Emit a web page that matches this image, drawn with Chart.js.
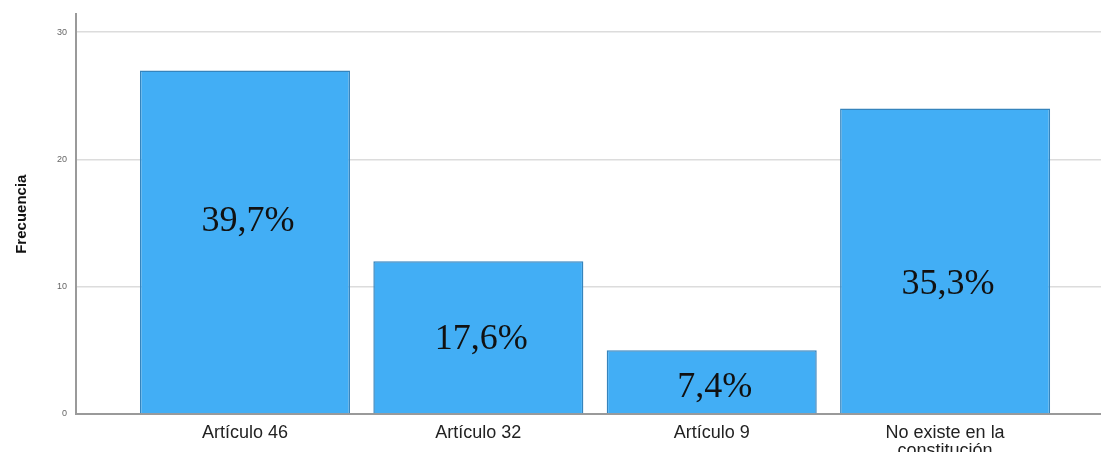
<!DOCTYPE html>
<html>
<head>
<meta charset="utf-8">
<script src="https://cdn.jsdelivr.net/npm/chart.js@4/dist/chart.umd.min.js"></script>
<style>
html,body{margin:0;padding:0;background:#fff;}
#wrap{width:1101px;height:452px;}
</style>
</head>
<body>
<div id="wrap"><canvas id="c" width="1101" height="452"></canvas></div>
<script>
const categories = ["Artículo 46", "Artículo 32", "Artículo 9", ["No existe en la", "constitución"]];
const frequencies = [27, 12, 5, 24];
const percentLabels = ["39,7%", "17,6%", "7,4%", "35,3%"];
const yTicks = [0, 10, 20, 30];

const points = frequencies.map((v, i) => ({x: i, y: v}));

// label anchors in data units (vertical centre of each percent label)
const labelAnchors = [15.3, 6.0, 2.25, 10.3];

const percentPlugin = {
  id: 'percentPlugin',
  afterDatasetsDraw(chart) {
    const ctx = chart.ctx;
    const xs = chart.scales.x, ys = chart.scales.y;
    ctx.save();
    ctx.font = '36px "Liberation Serif", "Times New Roman", serif';
    ctx.fillStyle = '#111';
    ctx.textAlign = 'center';
    ctx.textBaseline = 'middle';
    percentLabels.forEach((t, i) => {
      const x = xs.getPixelForValue(i);
      const y = ys.getPixelForValue(labelAnchors[i]);
      ctx.fillText(t, x + 3, y + 2);
    });
    ctx.restore();
  }
};

new Chart(document.getElementById('c'), {
  type: 'bar',
  data: {
    datasets: [{
      data: points,
      backgroundColor: '#42aef5',
      borderColor: '#3584bd',
      borderWidth: 1.5,
      barPercentage: 0.9,
      categoryPercentage: 1.0
    }]
  },
  options: {
    responsive: false,
    animation: false,
    layout: {padding: {top: 12, right: 0, left: 0, bottom: 0}},
    plugins: {legend: {display: false}, tooltip: {enabled: false}},
    scales: {
      x: {
        type: 'linear',
        offset: false,
        min: -0.724,
        max: 3.668,
        afterBuildTicks(scale) { scale.ticks = [0, 1, 2, 3].map(v => ({value: v})); },
        afterFit(scale) { scale.height = 38; },
        grid: {display: false, drawTicks: false},
        border: {display: true, color: '#9a9a9a', width: 2},
        ticks: {
          callback: (v) => categories[v],
          font: {family: '"Liberation Sans", Arial, sans-serif', size: 18, lineHeight: 1.0},
          color: '#222',
          padding: 10,
          maxRotation: 0,
          autoSkip: false
        }
      },
      y: {
        min: 0,
        max: 31.4,
        afterBuildTicks(scale) { scale.ticks = yTicks.map(v => ({value: v})); },
        afterFit(scale) { scale.width = 76; },
        grid: {color: '#dcdcdc', lineWidth: 1.5, drawTicks: false},
        border: {display: true, color: '#9a9a9a', width: 2},
        ticks: {
          font: {family: '"Liberation Sans", Arial, sans-serif', size: 9},
          color: '#666',
          padding: 9
        },
        title: {
          display: true,
          text: 'Frecuencia',
          font: {family: '"Liberation Sans", Arial, sans-serif', size: 15, weight: 'bold'},
          color: '#111',
          padding: {top: 13, bottom: 0}
        }
      }
    }
  },
  plugins: [percentPlugin]
});
</script>
</body>
</html>
